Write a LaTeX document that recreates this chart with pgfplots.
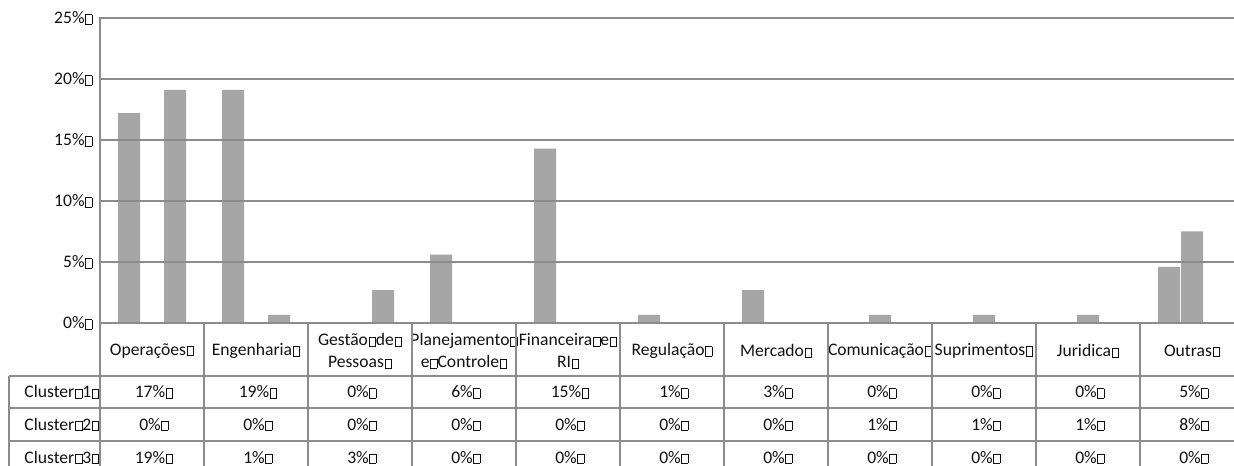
\documentclass[border=0pt]{standalone}
\usepackage{pgfplots}
\pgfplotsset{compat=1.18}
\usepackage{fontspec}
\setmainfont{Carlito}
\definecolor{barc}{HTML}{A6A6A6}
\definecolor{gridc}{HTML}{8C8C8C}
\definecolor{txt}{HTML}{111111}
\newcommand\bx{\kern0.5pt{\fboxsep=0pt\fboxrule=0.35pt\fbox{\rule{0pt}{6.6pt}\hspace{4.5pt}}}\kern0.3pt}
\begin{document}
\begin{tikzpicture}[x=0.75pt,y=0.75pt,font=\fontsize{13.2}{16.5}\selectfont]
\begin{axis}[
  at={(75pt,107.25pt)}, anchor=south west,
  scale only axis, width=858pt, height=228.75pt,
  xmin=-0.5, xmax=10.5, ymin=0, ymax=25,
  ytick={0,5,10,15,20,25},
  yticklabels={0\%\bx,5\%\bx,10\%\bx,15\%\bx,20\%\bx,25\%\bx},
  xtick={0,...,10},
  xticklabels={Operações\bx,Engenharia\bx,Gestão\bx de\bx\\Pessoas\bx,Planejamento\bx\\e\bx Controle\bx,Financeira\bx e\bx\\RI\bx,Regulação\bx,Mercado\bx,Comunicação\bx,Suprimentos\bx,Juridica\bx,Outras\bx},
  ymajorgrids, grid style={gridc, line width=1pt},
  axis line style={gridc, line width=1pt},
  axis on top,
  major tick length=0pt,
  every tick label/.append style={font=\fontsize{13.2}{16.5}\selectfont, text=txt},
  xticklabel style={anchor=center, yshift=-21pt, align=center},
  yticklabel style={anchor=east, xshift=-2pt},
  ybar, bar width=16.5pt,
]
\addplot[fill=barc, draw=none, bar shift=-17.25pt] coordinates {(0,17.2) (1,19.1) (3,5.6) (4,14.3) (5,0.66) (6,2.7) (10,4.6)};
\addplot[fill=barc, draw=none, bar shift=0pt] coordinates {(7,0.66) (8,0.66) (9,0.66) (10,7.5)};
\addplot[fill=barc, draw=none, bar shift=17.25pt] coordinates {(0,19.1) (1,0.66) (2,2.7)};
\end{axis}
\begin{scope}[gridc, line width=1pt]
\draw (9,90) -- (1240,90) (9,58) -- (1240,58) (9,25) -- (1240,25);
\draw (9,90) -- (9,-5);
\foreach \x in {100,204,308,412,516,620,724,828,932,1036,1140} \draw (\x,143) -- (\x,-5);
\end{scope}
\begin{scope}[text=txt]
\node[anchor=east] at (104,74) {Cluster\bx1\bx};
\node[anchor=east] at (104,41.5) {Cluster\bx2\bx};
\node[anchor=east] at (104,8.5) {Cluster\bx3\bx};
\foreach \v [count=\i from 0] in {17,19,0,6,15,1,3,0,0,0,5} \node at ({154+104*\i},74) {\v\%\bx};
\foreach \v [count=\i from 0] in {0,0,0,0,0,0,0,1,1,1,8} \node at ({154+104*\i},41.5) {\v\%\bx};
\foreach \v [count=\i from 0] in {19,1,3,0,0,0,0,0,0,0,0} \node at ({154+104*\i},8.5) {\v\%\bx};
\end{scope}
\pgfresetboundingbox
\useasboundingbox (0,0) rectangle (1234,466);
\end{tikzpicture}
\end{document}
